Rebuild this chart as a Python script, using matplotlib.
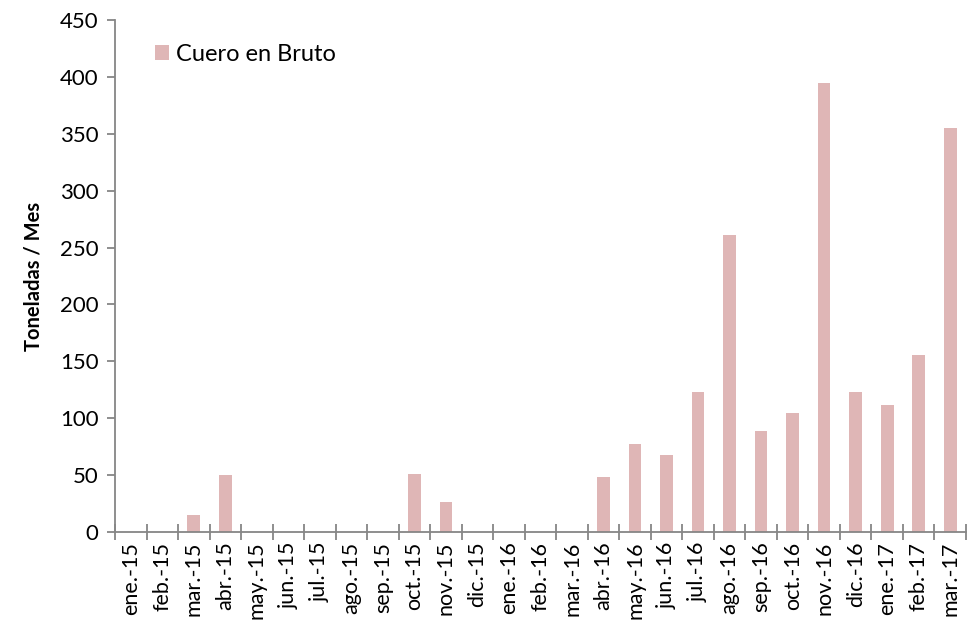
import matplotlib
matplotlib.use("Agg")
import matplotlib.pyplot as plt
import numpy as np

months = ["ene.-15", "feb.-15", "mar.-15", "abr.-15", "may.-15", "jun.-15", "jul.-15",
          "ago.-15", "sep.-15", "oct.-15", "nov.-15", "dic.-15", "ene.-16", "feb.-16",
          "mar.-16", "abr.-16", "may.-16", "jun.-16", "jul.-16", "ago.-16", "sep.-16",
          "oct.-16", "nov.-16", "dic.-16", "ene.-17", "feb.-17", "mar.-17"]
cuero = [0, 0, 15, 50, 0, 0, 0, 0, 0, 51, 26, 0, 0, 0, 0, 48, 77, 68, 123, 261,
         89, 105, 395, 123, 112, 156, 355]
yticks = [0, 50, 100, 150, 200, 250, 300, 350, 400, 450]

plt.rcParams['font.family'] = ['Lato', 'DejaVu Sans']

fig = plt.figure(figsize=(9.67, 6.37), dpi=100)
ax = fig.add_axes([115/967, 1-532/637, (966-115)/967, (532-20)/637])

x = np.arange(len(months))
ax.bar(x, cuero, width=0.4, color="#DFB6B6", label="Cuero en Bruto", zorder=2)

ax.set_xlim(-0.5, len(months) - 0.5)
ax.set_ylim(0, 450)
ax.set_yticks(yticks)
ax.set_yticklabels([str(v) for v in yticks], fontsize=16)
ax.set_xticks(x)
ax.set_xticklabels(months, rotation=90, fontsize=15.5)
ax.set_xticks(np.arange(len(months) + 1) - 0.5, minor=True)
ax.tick_params(axis='x', which='major', length=0, pad=7)
ax.tick_params(axis='x', which='minor', length=12, direction='inout', color='#868686', width=1.3)
ax.tick_params(axis='y', length=6, direction='out', color='#868686', width=1.3, pad=6)

for s in ['top', 'right']:
    ax.spines[s].set_visible(False)
for s in ['left', 'bottom']:
    ax.spines[s].set_color('#868686')
    ax.spines[s].set_linewidth(1.3)

ax.set_ylabel("Toneladas / Mes", fontsize=14.5, fontweight='bold', labelpad=12)

ax.legend(loc='upper left', bbox_to_anchor=(0.022, 0.995), frameon=False, fontsize=17,
          handlelength=0.6, handleheight=0.6, handletextpad=0.3)

fig.savefig("out.png", dpi=100)
